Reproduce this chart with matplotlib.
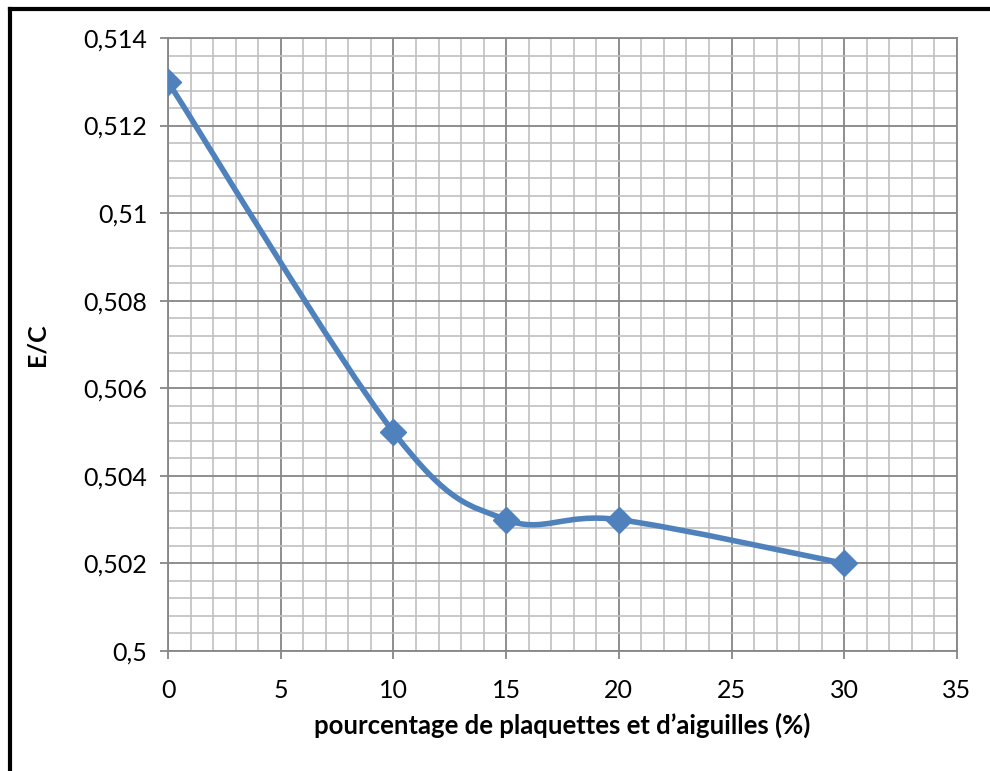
import numpy as np
import matplotlib
matplotlib.use("Agg")
import matplotlib.pyplot as plt
from matplotlib.path import Path
from matplotlib.patches import PathPatch
from matplotlib.lines import Line2D
from matplotlib.ticker import MultipleLocator

# data
pct = [0, 10, 15, 20, 30]
ec = [0.513, 0.505, 0.503, 0.503, 0.502]
yticks = [0.5, 0.502, 0.504, 0.506, 0.508, 0.51, 0.512, 0.514]
ytick_labels = ["0,5", "0,502", "0,504", "0,506", "0,508", "0,51", "0,512", "0,514"]
xticks = [0, 5, 10, 15, 20, 25, 30, 35]

blue = "#4F81BD"
major_c = "#868686"
minor_c = "#C0C0C0"

plt.rcParams['font.family'] = ['Lato', 'DejaVu Sans']

fig = plt.figure(figsize=(9.9, 7.71), dpi=100)
ax = fig.add_axes([168/990, 1 - 651/771, (957-168)/990, (651-38)/771])


# Excel style smoothed line (cardinal bezier through the points)
def smooth_path(xs, ys):
    pts = np.column_stack([xs, ys]).astype(float)
    n = len(pts)
    verts = [pts[0]]
    codes = [Path.MOVETO]
    for i in range(n - 1):
        p0 = pts[max(i - 1, 0)]
        p1 = pts[i]
        p2 = pts[i + 1]
        p3 = pts[min(i + 2, n - 1)]
        c1 = p1 + (p2 - p0) / 6.0
        c2 = p2 - (p3 - p1) / 6.0
        verts += [c1, c2, p2]
        codes += [Path.CURVE4] * 3
    return Path(verts, codes)


ax.add_patch(PathPatch(smooth_path(pct, ec), facecolor='none', edgecolor=blue,
                       lw=4, capstyle='round', joinstyle='round', zorder=3))
ax.plot(pct, ec, linestyle='none', marker='D', ms=13, color=blue, zorder=4)

ax.set_xlim(0, 35)
ax.set_ylim(0.5, 0.514)
ax.set_xticks(xticks)
ax.set_yticks(yticks)
ax.set_yticklabels(ytick_labels)
ax.xaxis.set_minor_locator(MultipleLocator(1))
ax.yaxis.set_minor_locator(MultipleLocator(0.0004))

ax.grid(which='minor', color=minor_c, lw=1.2, zorder=0)
ax.grid(which='major', color=major_c, lw=1.3, zorder=1)
ax.set_axisbelow(True)
ax.tick_params(which='major', direction='out', length=6, width=1.3, color=major_c,
               labelsize=18, pad=9)
ax.tick_params(axis='x', pad=14)
ax.tick_params(which='minor', length=0)
for s in ax.spines.values():
    s.set_color(major_c)
    s.set_linewidth(1.3)

ax.set_xlabel("pourcentage de plaquettes et d\u2019aiguilles (%)", fontsize=18.5,
              fontweight='bold', labelpad=8)
ax.set_ylabel("E/C", fontsize=18, fontweight='bold', labelpad=25)

# thick black frame around the chart (left and top only visible)
fig.add_artist(Line2D([10/990, 10/990], [0, 1 - 9/771], color='black', lw=3))
fig.add_artist(Line2D([10/990, 1], [1 - 9/771, 1 - 9/771], color='black', lw=3))

fig.savefig("out.png", dpi=100)
